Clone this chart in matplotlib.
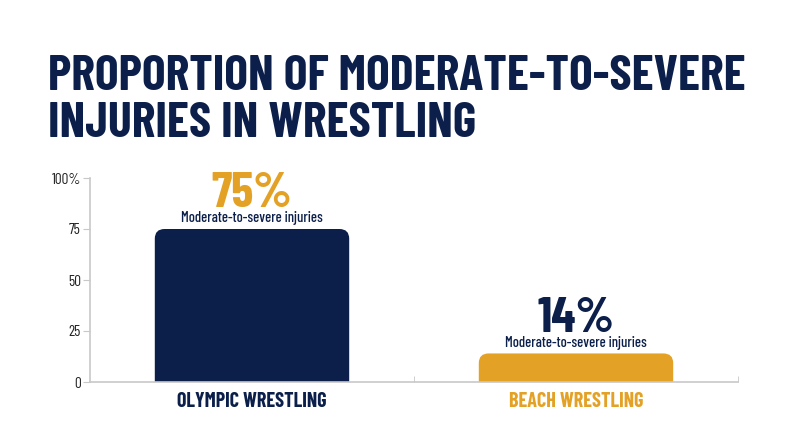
import matplotlib
matplotlib.use('Agg')
import matplotlib.pyplot as plt
from matplotlib.patches import FancyBboxPatch

# data
categories = ["OLYMPIC WRESTLING", "BEACH WRESTLING"]
values = [75, 14]
value_labels = ["75%", "14%"]
sub_label = "Moderate-to-severe injuries"
yticks = [0, 25, 50, 75, 100]
ytick_labels = ["0", "25", "50", "75", "100%"]
title_lines = ["PROPORTION OF MODERATE-TO-SEVERE", "INJURIES IN WRESTLING"]

NAVY = "#0b1f4a"
GOLD = "#e3a126"
bar_colors = [NAVY, GOLD]
value_colors = [GOLD, NAVY]

plt.rcParams['font.family'] = ['Barlow Condensed', 'DejaVu Sans']

fig = plt.figure(figsize=(8, 4.47), dpi=100)
ax = fig.add_axes([90 / 800, 65 / 447, 648 / 800, 204 / 447])

x = list(range(len(categories)))
bw = 0.6
# data units per pixel: x 2/648, y 100/204
for xi, v, c in zip(x, values, bar_colors):
    # rounded top corners; bottom pushed below zero and clipped by the axes
    p = FancyBboxPatch((xi - bw / 2, -10), bw, v + 10,
                       boxstyle="round,pad=0,rounding_size=0.03",
                       mutation_aspect=(100 / 204) / (2 / 648),
                       facecolor=c, edgecolor="none")
    ax.add_patch(p)
    p.set_clip_path(ax.patch)

ax.set_xlim(-0.5, 1.5)
ax.set_ylim(0, 100)

for xi, v, lab, c in zip(x, values, value_labels, value_colors):
    ax.text(xi, v + 10.6, lab, ha="center", va="baseline", fontsize=36,
            fontweight="bold", color=c)
    ax.text(xi, v + 3.4, sub_label, ha="center", va="baseline", fontsize=10.5,
            fontweight="medium", color=NAVY)

ax.set_yticks(yticks)
ax.set_yticklabels(ytick_labels)
ax.set_xticks(x)
ax.set_xticklabels(categories)
for t, c in zip(ax.get_xticklabels(), bar_colors):
    t.set_color(c)
    t.set_fontweight("bold")
    t.set_fontsize(14.5)
ax.tick_params(axis="x", length=0, pad=7)
ax.set_xticks([0.5, 1.5], minor=True)
ax.tick_params(axis="x", which="minor", direction="in", length=4, color="#c8c8c8")
ax.tick_params(axis="y", length=5, color="#c8c8c8", labelsize=11,
               labelcolor="#222222", pad=1.5)

for s in ["top", "right"]:
    ax.spines[s].set_visible(False)
for s in ["left", "bottom"]:
    ax.spines[s].set_color("#c8c8c8")
    ax.spines[s].set_linewidth(1.2)

for i, line in enumerate(title_lines):
    fig.text(48 / 800, 1 - (90 + 47 * i) / 447, line, fontsize=36,
             fontweight="bold", color=NAVY, ha="left", va="baseline")

fig.savefig("out.png", dpi=100)
